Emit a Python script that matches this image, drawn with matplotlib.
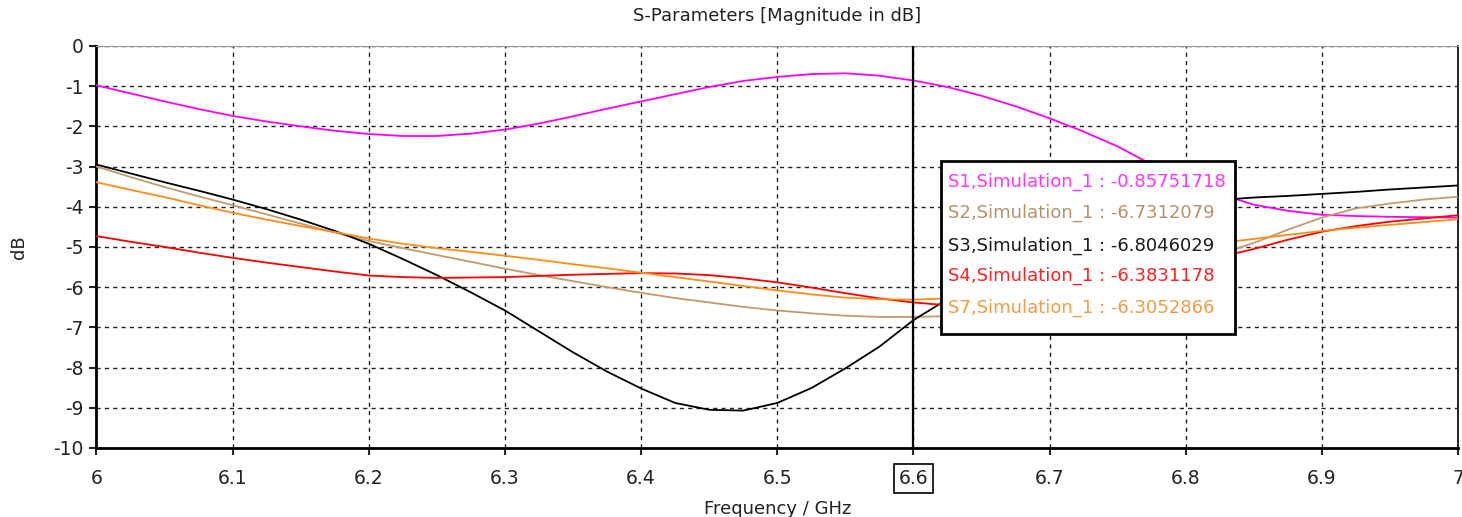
import matplotlib.pyplot as plt
import numpy as np
from matplotlib.patches import Rectangle

plt.rcParams['axes.unicode_minus'] = False

# frequency grid (GHz), 0.025 steps
freq = np.round(np.arange(6.0, 7.0001, 0.025), 3)

s1 = [-0.98, -1.18, -1.38, -1.57, -1.74, -1.88, -2.00, -2.11, -2.19, -2.24,
      -2.24, -2.18, -2.08, -1.93, -1.75, -1.56, -1.38, -1.20, -1.02, -0.87,
      -0.77, -0.70, -0.68, -0.74, -0.86, -1.02, -1.24, -1.50, -1.80, -2.13,
      -2.50, -2.95, -3.35, -3.68, -3.95, -4.10, -4.20, -4.23, -4.25, -4.26,
      -4.27]
s2 = [-3.00, -3.26, -3.51, -3.74, -3.96, -4.19, -4.42, -4.64, -4.85, -5.03,
      -5.20, -5.37, -5.54, -5.70, -5.85, -6.00, -6.14, -6.27, -6.38, -6.49,
      -6.58, -6.65, -6.71, -6.74, -6.74, -6.72, -6.65, -6.52, -6.35, -6.15,
      -5.93, -5.70, -5.45, -5.18, -4.90, -4.57, -4.27, -4.04, -3.92, -3.82,
      -3.75]
s3 = [-2.95, -3.17, -3.39, -3.60, -3.82, -4.06, -4.32, -4.60, -4.92, -5.30,
      -5.70, -6.13, -6.58, -7.10, -7.62, -8.10, -8.52, -8.88, -9.05, -9.07,
      -8.88, -8.51, -8.02, -7.48, -6.82, -6.30, -5.70, -5.25, -4.85, -4.50,
      -4.25, -4.05, -3.92, -3.83, -3.77, -3.73, -3.68, -3.63, -3.57, -3.52,
      -3.47]
s4 = [-4.73, -4.87, -5.00, -5.14, -5.27, -5.39, -5.50, -5.61, -5.71, -5.75,
      -5.77, -5.76, -5.75, -5.72, -5.69, -5.67, -5.65, -5.66, -5.70, -5.78,
      -5.88, -6.01, -6.15, -6.28, -6.38, -6.45, -6.40, -6.30, -6.15, -5.98,
      -5.80, -5.60, -5.42, -5.25, -5.05, -4.82, -4.62, -4.48, -4.37, -4.29,
      -4.21]
s7 = [-3.39, -3.58, -3.76, -3.96, -4.15, -4.32, -4.48, -4.63, -4.79, -4.92,
      -5.03, -5.12, -5.22, -5.32, -5.43, -5.53, -5.64, -5.75, -5.86, -5.97,
      -6.08, -6.18, -6.26, -6.30, -6.31, -6.28, -6.20, -6.05, -5.85, -5.65,
      -5.45, -5.25, -5.08, -4.90, -4.80, -4.70, -4.60, -4.52, -4.45, -4.38,
      -4.31]

series = [s1, s2, s3, s4, s7]
colors = ['#FF00FF', '#C49A6C', '#000000', '#FF0000', '#FF8C1A']
text_colors = ['#FF33FF', '#B8916A', '#1A1A1A', '#FF2020', '#F79A45']
marker_f = 6.6
marker_labels = ['S1,Simulation_1 : -0.85751718',
                 'S2,Simulation_1 : -6.7312079',
                 'S3,Simulation_1 : -6.8046029',
                 'S4,Simulation_1 : -6.3831178',
                 'S7,Simulation_1 : -6.3052866']

xticks = [6, 6.1, 6.2, 6.3, 6.4, 6.5, 6.6, 6.7, 6.8, 6.9, 7]
xtick_labels = ['6', '6.1', '6.2', '6.3', '6.4', '6.5', '6.6', '6.7', '6.8', '6.9', '7']
yticks = list(range(-10, 1))

fig = plt.figure(figsize=(14.62, 5.17), dpi=100)
ax = fig.add_axes([0.066, 0.1335, 0.9313, 0.7776])

for s, c in zip(series, colors):
    ax.plot(freq, s, color=c, lw=1.3, zorder=3)

ax.axvline(marker_f, color='black', lw=1.6, zorder=4)

ax.set_xlim(6, 7)
ax.set_ylim(-10, 0)
ax.set_xticks(xticks)
ax.set_xticklabels(xtick_labels)
ax.set_yticks(yticks)
ax.grid(True, color='#222222', linestyle=(0, (3, 3)), lw=1.0)
ax.tick_params(direction='out', length=5, width=1.5, labelsize=13.5, colors='#222222')
ax.tick_params(axis='x', pad=10)
ax.tick_params(axis='y', pad=4)

for side in ['left', 'bottom']:
    ax.spines[side].set_linewidth(2)
ax.spines['top'].set_color('#999999')
ax.spines['right'].set_linewidth(1.2)

# boxed marker tick label
for lab in ax.get_xticklabels():
    if lab.get_text() == '6.6':
        lab.set_bbox(dict(boxstyle='square,pad=0.25', fc='white', ec='black', lw=1.2))

ax.set_title('S-Parameters [Magnitude in dB]', fontsize=13, color='#222222', pad=18)
ax.set_xlabel('Frequency / GHz', fontsize=13, color='#222222', labelpad=9)
ax.set_ylabel('dB', fontsize=13, color='#222222')
ax.yaxis.set_label_coords(-0.05, 0.5)

# marker readout box
ax.add_patch(Rectangle((0.6203, 0.2836), 0.2159, 0.4304, transform=ax.transAxes,
                       fc='white', ec='black', lw=2, zorder=5))
text_y = [0.6624, 0.5838, 0.5025, 0.4279, 0.3475]
for lab, c, ty in zip(marker_labels, text_colors, text_y):
    ax.text(0.6254, ty, lab, transform=ax.transAxes, color=c, fontsize=13,
            va='center', ha='left', zorder=6)

fig.savefig('out.png', dpi=100)
